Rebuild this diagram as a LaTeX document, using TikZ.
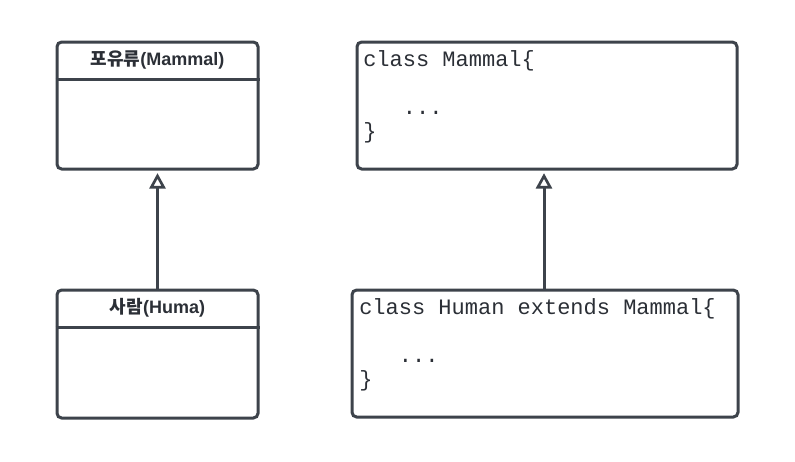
\documentclass[tikz,border=0pt]{standalone}
\usepackage{fontspec}
\setmainfont{Liberation Sans}
\setmonofont{Liberation Mono}
\newfontfamily\kr{Noto Sans CJK KR}
\usetikzlibrary{arrows.meta}
\definecolor{ln}{HTML}{3D434B}
\definecolor{tx}{HTML}{2B2F36}
\tikzset{
  umlbox/.style={draw=ln, line width=2.25pt, rounded corners=3.5pt, fill=white, inner sep=0pt},
  divider/.style={draw=ln, line width=2.25pt},
  hdr/.style={text=tx, font=\fontsize{13.5}{15}\selectfont\bfseries, inner sep=0pt},
  code/.style={text=tx, font=\ttfamily\fontsize{16.5}{18}\selectfont, align=left, inner sep=0pt, anchor=north west},
  inh/.style={draw=ln, line width=2.25pt, -{Triangle[open, length=11.5pt, width=12pt, line width=2pt]}, shorten >=2pt}
}
\begin{document}
\begin{tikzpicture}[x=0.75pt, y=-0.75pt]
\useasboundingbox (0,0) rectangle (795,461);
% left column
\node[umlbox, minimum width=150.75pt, minimum height=95.25pt] (lt) at (157.5,105.5) {};
\node[umlbox, minimum width=150.75pt, minimum height=96pt] (lb) at (157.5,354) {};
\draw[divider] (lt.west |- 0,79) -- (lt.east |- 0,79);
\draw[divider] (lb.west |- 0,327) -- (lb.east |- 0,327);
\node[hdr] (lth) at (157.5,59.5) {{\kr\bfseries 포유류}(Mammal)};
\node[hdr] (lbh) at (157.5,307.5) {{\kr\bfseries 사람}(Huma)};
% right column
\node[umlbox, minimum width=285pt, minimum height=95.25pt] (rt) at (547,105.5) {};
\node[umlbox, minimum width=289.5pt, minimum height=95.25pt] (rb) at (545,353.5) {};
\node[code] (rtc) at (363,50) {class Mammal\{\\ \mbox{}\\ \phantom{xxx}...\\ \}};
\node[code] (rbc) at (359,298) {class Human extends Mammal\{\\ \mbox{}\\ \phantom{xxx}...\\ \}};
% inheritance arrows
\draw[inh] (lb.north) -- (lt.south);
\coordinate (ra) at (544,290);
\draw[inh] (ra) -- (ra |- rt.south);
\end{tikzpicture}
\end{document}
